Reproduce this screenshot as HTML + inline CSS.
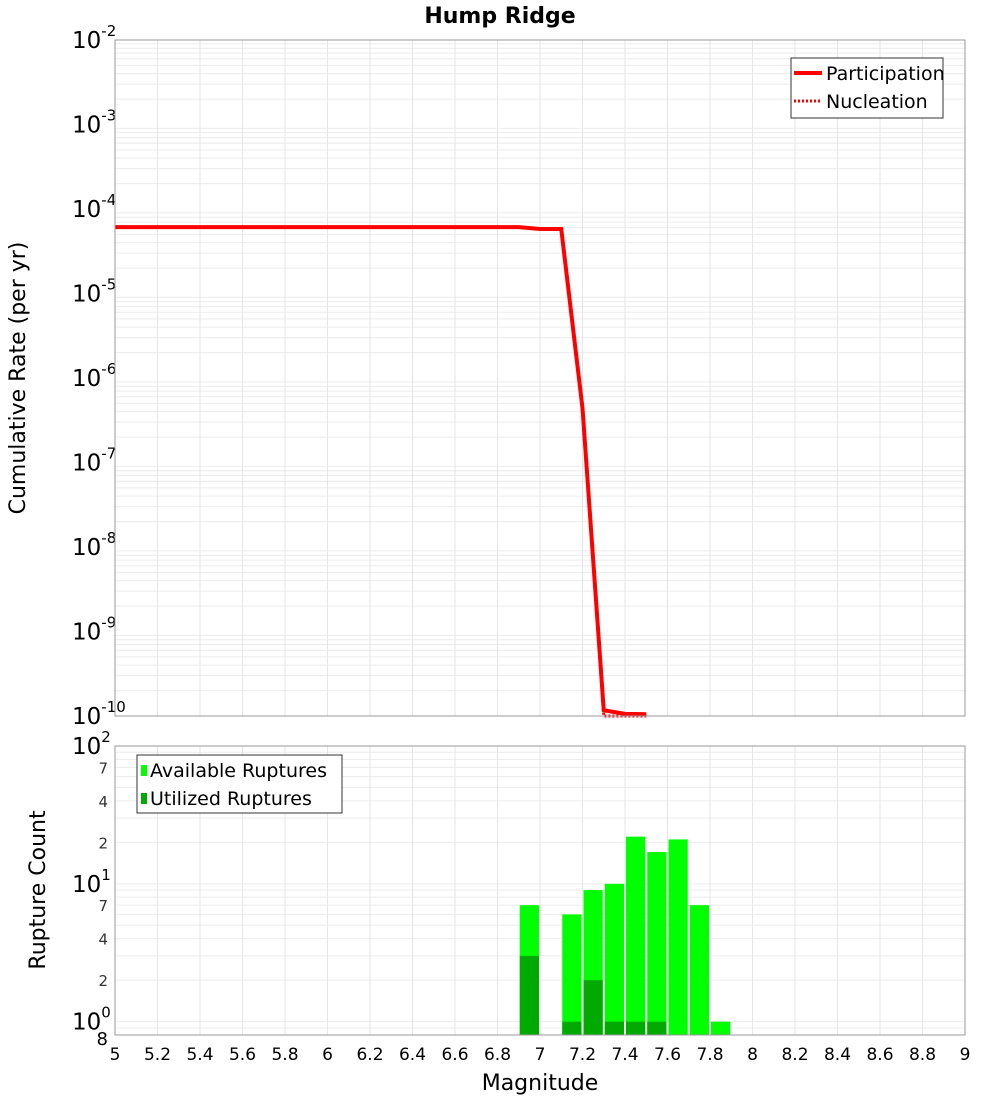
<!DOCTYPE html>
<html><head><meta charset="utf-8"><style>
body{margin:0;background:#fff}
svg text{font-family:"DejaVu Sans","Liberation Sans",sans-serif}
</style></head><body>
<svg id="c" width="1000" height="1100" xmlns="http://www.w3.org/2000/svg">
<text x="500" y="23" text-anchor="middle" font-size="22" font-weight="bold">Hump Ridge</text>
<g id="gtop"></g><g id="gbot"></g>
<text transform="translate(25,378) rotate(-90)" text-anchor="middle" font-size="22">Cumulative Rate (per yr)</text>
<text transform="translate(45,890) rotate(-90)" text-anchor="middle" font-size="22">Rupture Count</text>
<text x="540" y="1090" text-anchor="middle" font-size="22">Magnitude</text>
<g>
<rect x="791" y="58" width="152" height="60" fill="#fff" stroke="#333"/>
<line x1="794" y1="73" x2="822" y2="73" stroke="#f00" stroke-width="4"/>
<text x="826" y="80" font-size="19">Participation</text>
<line x1="794" y1="101" x2="822" y2="101" stroke="#f00" stroke-width="3" stroke-dasharray="2,2"/>
<text x="826" y="108" font-size="19">Nucleation</text>
</g>
<g>
<rect x="137" y="755" width="205" height="58" fill="#fff" stroke="#333"/>
<rect x="141" y="765" width="6" height="11" fill="#00ff00"/>
<text x="150" y="777" font-size="19">Available Ruptures</text>
<rect x="141" y="793" width="6" height="11" fill="#00aa00"/>
<text x="150" y="805" font-size="19">Utilized Ruptures</text>
</g>
</svg>
<script>
const mags=[5.0,5.1,5.2,5.3,5.4,5.5,5.6,5.7,5.8,5.9,6.0,6.1,6.2,6.3,6.4,6.5,6.6,6.7,6.8,6.9,7.0,7.1,7.2,7.3,7.4,7.5];
const participation=[6.1e-5,6.1e-5,6.1e-5,6.1e-5,6.1e-5,6.1e-5,6.1e-5,6.1e-5,6.1e-5,6.1e-5,6.1e-5,6.1e-5,6.1e-5,6.1e-5,6.1e-5,6.1e-5,6.1e-5,6.1e-5,6.1e-5,6.1e-5,5.8e-5,5.8e-5,4.4e-7,1.17e-10,1.06e-10,1.05e-10];
const nucleation=[6.1e-5,6.1e-5,6.1e-5,6.1e-5,6.1e-5,6.1e-5,6.1e-5,6.1e-5,6.1e-5,6.1e-5,6.1e-5,6.1e-5,6.1e-5,6.1e-5,6.1e-5,6.1e-5,6.1e-5,6.1e-5,6.1e-5,6.1e-5,5.8e-5,5.8e-5,4.4e-7,1.0e-10,1.0e-10,1.0e-10];
const binStarts=[6.9,7.1,7.2,7.3,7.4,7.5,7.6,7.7,7.8];
const available=[7,6,9,10,22,17,21,7,1];
const utilized=[3,1,2,1,1,1,0,0,0];
const xTicks=[5,5.2,5.4,5.6,5.8,6,6.2,6.4,6.6,6.8,7,7.2,7.4,7.6,7.8,8,8.2,8.4,8.6,8.8,9];
const topExps=[-2,-3,-4,-5,-6,-7,-8,-9,-10];
const botMinor=[7,4,2];

const NS='http://www.w3.org/2000/svg';
const X0=115,X1=965,T0=40,T1=716,B0=746,B1=1035;
const xs=m=>X0+(m-5)/4*(X1-X0);
const yt=v=>T0+(-2-Math.log10(v))/8*(T1-T0);
const bl=Math.log10(0.8),bh=2;
const yb=v=>B1-(Math.log10(v)-bl)/(bh-bl)*(B1-B0);
function mk(p,t,a,txt){const e=document.createElementNS(NS,t);for(const k in a)e.setAttribute(k,a[k]);if(txt!==undefined)e.textContent=txt;p.appendChild(e);return e;}
const gTop=document.getElementById('gtop'),gBot=document.getElementById('gbot');
for(let d=-10;d<-2;d++)for(let k=2;k<=9;k++){const l=mk(gTop,'line',{x1:X0,x2:X1,y1:yt(k*Math.pow(10,d)),y2:yt(k*Math.pow(10,d)),stroke:'#ececec'});

}
for(let d=0;d<2;d++)for(let k=1;k<=9;k++){const v=k*Math.pow(10,d);const l=mk(gBot,'line',{x1:X0,x2:X1,y1:yb(v),y2:yb(v),stroke:'#ececec'});

}
{const l=mk(gBot,'line',{x1:X0,x2:X1,y1:yb(0.9),y2:yb(0.9),stroke:'#ececec'});

}
xTicks.forEach(m=>{
 [[gTop,T0,T1],[gBot,B0,B1]].forEach(([g,a,b])=>{const l=mk(g,'line',{x1:xs(m),x2:xs(m),y1:a,y2:b,stroke:'#e6e6e6'});
 
 });
 const t=mk(gBot,'text',{x:xs(m),y:1060,'text-anchor':'middle','font-size':17},String(m));
 
 
});
topExps.forEach(e=>{
 const y=yt(Math.pow(10,e));
 const t=mk(gTop,'text',{x:72,y:y+8,'font-size':23},'10');
 
 
 mk(t,'tspan',{dy:-12,'font-size':15},String(e));
});
[[2,100],[1,10],[0,1]].forEach(([e,v])=>{
 const y=yb(v);
 const t=mk(gBot,'text',{x:72,y:y+8,'font-size':23},'10');
 
 
 mk(t,'tspan',{dy:-12,'font-size':15},String(e));
});
[10,1].forEach(dec=>botMinor.forEach(k=>{if(dec*k>100)return;const t=mk(gBot,'text',{x:108,y:yb(dec*k)+6,'text-anchor':'end','font-size':15,fill:'#333'},String(k));

}));
{const t=mk(gBot,'text',{x:108,y:B1+10,'text-anchor':'end','font-size':18},'8');

}
binStarts.forEach((m,i)=>{
 const x=xs(m)+1,w=xs(m+0.1)-xs(m)-2;
 const r=mk(gBot,'rect',{x:x,y:yb(available[i]),width:w,height:B1-yb(available[i]),fill:'#00ff00'});
 
 
 if(utilized[i]>0){const u=mk(gBot,'rect',{x:x,y:yb(utilized[i]),width:w,height:B1-yb(utilized[i]),fill:'#00aa00'});
 
 }
});
const pts=a=>a.map((v,i)=>xs(mags[i])+','+Math.min(yt(v),T1)).join(' ');
const n=mk(gTop,'polyline',{points:pts(nucleation),fill:'none',stroke:'#f00','stroke-width':3,'stroke-dasharray':'2,2'});


const p=mk(gTop,'polyline',{points:pts(participation),fill:'none',stroke:'#f00','stroke-width':4});


[[gTop,T0,T1],[gBot,B0,B1]].forEach(([g,a,b])=>{const r=mk(g,'rect',{x:X0,y:a,width:X1-X0,height:b-a,fill:'none',stroke:'#999'});

});
</script>
</body></html>
